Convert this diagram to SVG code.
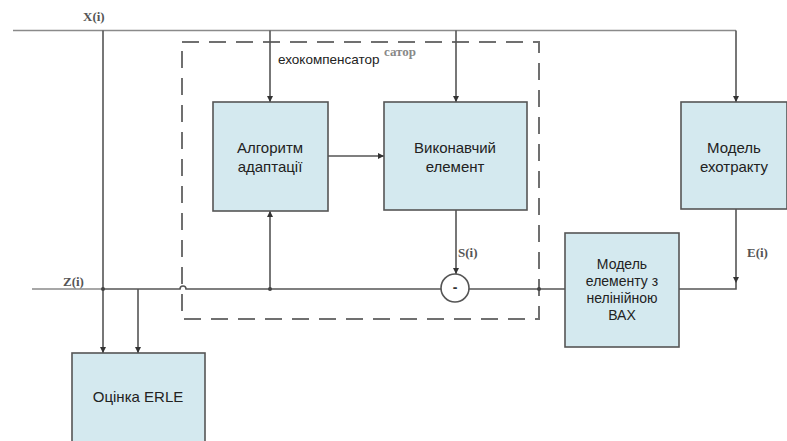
<svg xmlns="http://www.w3.org/2000/svg" width="787" height="441" viewBox="0 0 787 441">
  <defs>
    <marker id="arr" viewBox="0 0 10 10" refX="10" refY="5" markerWidth="6" markerHeight="6" orient="auto" markerUnits="userSpaceOnUse">
      <path d="M0,0 L10,5 L0,10 z" fill="#333"/>
    </marker>
  </defs>
  <style>
    .box { fill: #d4e9ef; stroke: #555; stroke-width: 1.6; }
    .wire { fill: none; stroke: #555; stroke-width: 1.6; }
    .thin { fill: none; stroke: #8a8a8a; stroke-width: 1.4; }
    .dash { fill: none; stroke: #707070; stroke-width: 2; stroke-dasharray: 17 10; }
    .lbl { font-family: "Liberation Sans", Arial, sans-serif; font-size: 15px; fill: #222; text-anchor: middle; }
    .sig { font-family: "Liberation Serif", "Times New Roman", serif; font-size: 13px; font-weight: bold; fill: #555; }
    .dot { fill: #444; }
  </style>
  <rect width="787" height="441" fill="#fff"/>

  <!-- echo canceller boundary -->
  <rect class="dash" x="182" y="42" width="357" height="277"/>
  <text x="384" y="56" style="font-family:'Liberation Serif','Times New Roman',serif;font-size:13px;font-weight:bold;fill:#888">сатор</text>
  <text x="278" y="64" style="font-family:'Liberation Sans',Arial,sans-serif;font-size:13.5px;fill:#222">ехокомпенсатор</text>

  <!-- connectors -->
  <g id="connectors">
    <!-- X(i) bus -->
    <line class="thin" x1="13" y1="30.5" x2="736" y2="30.5"/>
    <line class="wire" x1="103" y1="30.5" x2="103" y2="353" marker-end="url(#arr)"/>
    <line class="wire" x1="270" y1="30.5" x2="270" y2="102" marker-end="url(#arr)"/>
    <line class="wire" x1="456" y1="30.5" x2="456" y2="102" marker-end="url(#arr)"/>
    <line class="wire" x1="736" y1="30.5" x2="736" y2="102" marker-end="url(#arr)"/>
    <!-- adaptation to filter -->
    <line class="wire" x1="328" y1="156" x2="384" y2="156" marker-end="url(#arr)"/>
    <!-- S(i) into subtractor -->
    <line class="wire" x1="456" y1="210" x2="456" y2="274" marker-end="url(#arr)"/>
    <!-- Z(i) line -->
    <line class="thin" x1="32" y1="289" x2="103" y2="289"/>
    <path class="wire" d="M103,289 H180 a3,3 0 0 1 6,0 H441"/>
    <line class="wire" x1="138" y1="289" x2="138" y2="353" marker-end="url(#arr)"/>
    <line class="wire" x1="270" y1="289" x2="270" y2="211" marker-end="url(#arr)"/>
    <line class="wire" x1="469" y1="289" x2="565" y2="289"/>
    <!-- echo path model output E(i) -->
    <line class="wire" x1="736" y1="209" x2="736" y2="283" marker-end="url(#arr)"/>
    <polyline class="wire" points="736,283 736,289 679,289"/>
    <circle class="dot" cx="103" cy="289" r="2"/>
    <circle class="dot" cx="270" cy="289" r="2"/>
    <circle class="dot" cx="539" cy="289" r="2"/>
  </g>

  <!-- signal labels -->
  <text class="sig" x="83" y="21">X(i)</text>
  <text class="sig" x="63" y="286">Z(i)</text>
  <text class="sig" x="458" y="257">S(i)</text>
  <text class="sig" x="747" y="257">E(i)</text>

  <g id="subtractor">
    <circle cx="455" cy="288" r="14" fill="#fff" stroke="#555" stroke-width="1.6"/>
    <text x="455" y="292" style="font-family:'Liberation Sans',Arial,sans-serif;font-size:14px;font-weight:bold;fill:#333;text-anchor:middle">-</text>
  </g>

  <g id="adaptation">
    <rect class="box" x="213" y="102" width="115" height="109"/>
    <text class="lbl" x="270" y="153">Алгоритм</text>
    <text class="lbl" x="270" y="172">адаптації</text>
  </g>

  <g id="filter">
    <rect class="box" x="384" y="102" width="143" height="108"/>
    <text class="lbl" x="455" y="153">Виконавчий</text>
    <text class="lbl" x="455" y="172">елемент</text>
  </g>

  <g id="echo-path">
    <rect class="box" x="681" y="102" width="106" height="107"/>
    <text class="lbl" x="734" y="153">Модель</text>
    <text class="lbl" x="734" y="172">ехотракту</text>
  </g>

  <g id="nonlinear">
    <rect class="box" x="565" y="233" width="114" height="114"/>
    <text class="lbl" x="622" y="269" style="font-size:14px">Модель</text>
    <text class="lbl" x="622" y="286" style="font-size:14px">елементу з</text>
    <text class="lbl" x="622" y="303" style="font-size:14px">нелінійною</text>
    <text class="lbl" x="622" y="320" style="font-size:14px">ВАХ</text>
  </g>

  <g id="erle">
    <rect class="box" x="72" y="353" width="133" height="95"/>
    <text class="lbl" x="138" y="402">Оцінка ERLE</text>
  </g>
</svg>
